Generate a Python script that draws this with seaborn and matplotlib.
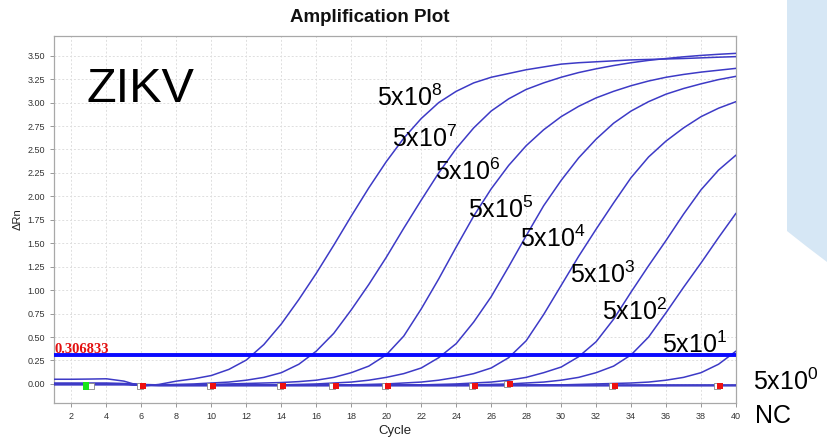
import matplotlib
matplotlib.use("Agg")
import matplotlib.pyplot as plt
import seaborn as sns
import pandas as pd
from matplotlib.patches import Polygon

# ---------------- data ----------------
cycles = list(range(1, 41))

sample_labels = ["5x10$^8$", "5x10$^7$", "5x10$^6$", "5x10$^5$", "5x10$^4$",
                 "5x10$^3$", "5x10$^2$", "5x10$^1$", "5x10$^0$", "NC"]

drn_5e8 = [0.05, 0.05, 0.052, 0.055, 0.03, -0.025, -0.005, 0.03, 0.055, 0.09,
           0.155, 0.255, 0.42, 0.64, 0.90, 1.18, 1.48, 1.79, 2.09, 2.37,
           2.62, 2.83, 3.00, 3.12, 3.21, 3.27, 3.31, 3.35, 3.38, 3.41,
           3.425, 3.435, 3.445, 3.455, 3.46, 3.465, 3.47, 3.477, 3.484, 3.49]
drn_5e7 = [0.01, 0.01, 0.01, 0.01, 0.005, -0.01, -0.01, -0.005, 0.0, 0.01,
           0.02, 0.04, 0.07, 0.12, 0.21, 0.35, 0.54, 0.79, 1.06, 1.35,
           1.66, 1.96, 2.25, 2.51, 2.73, 2.91, 3.04, 3.14, 3.21, 3.27,
           3.32, 3.36, 3.395, 3.425, 3.45, 3.47, 3.488, 3.503, 3.515, 3.525]
drn_5e6 = [0.0, 0.0, 0.0, 0.0, 0.0, -0.01, -0.01, -0.01, -0.01, -0.005,
           0.0, 0.005, 0.01, 0.015, 0.025, 0.04, 0.07, 0.12, 0.19, 0.31,
           0.51, 0.80, 1.12, 1.46, 1.79, 2.08, 2.33, 2.54, 2.71, 2.85,
           2.96, 3.05, 3.12, 3.18, 3.23, 3.27, 3.30, 3.325, 3.345, 3.365]
drn_5e5 = [0.0, 0.0, 0.0, 0.0, 0.0, -0.01, -0.01, -0.01, -0.01, -0.01,
           -0.01, -0.01, -0.01, -0.01, -0.005, 0.0, 0.01, 0.02, 0.04, 0.07,
           0.11, 0.17, 0.28, 0.43, 0.66, 0.93, 1.25, 1.58, 1.90, 2.17,
           2.41, 2.61, 2.78, 2.91, 3.01, 3.09, 3.15, 3.20, 3.245, 3.28]
drn_5e4 = [0.0, 0.0, 0.0, 0.0, 0.0, -0.01, -0.01, -0.01, -0.01, -0.01,
           -0.01, -0.01, -0.01, -0.01, -0.01, -0.01, -0.01, -0.01, -0.005, 0.0,
           0.01, 0.02, 0.04, 0.07, 0.11, 0.17, 0.28, 0.46, 0.74, 1.05,
           1.36, 1.65, 1.93, 2.20, 2.42, 2.59, 2.73, 2.85, 2.94, 3.01]
drn_5e3 = [0.0, 0.0, 0.0, 0.0, 0.0, -0.01, -0.01, -0.01, -0.01, -0.01,
           -0.01, -0.01, -0.01, -0.01, -0.01, -0.01, -0.01, -0.01, -0.01, -0.01,
           -0.01, -0.01, -0.005, 0.0, 0.01, 0.02, 0.04, 0.07, 0.12, 0.18,
           0.29, 0.45, 0.69, 0.98, 1.26, 1.53, 1.81, 2.07, 2.28, 2.44]
drn_5e2 = [0.0, 0.0, 0.0, 0.0, 0.0, -0.01, -0.01, -0.01, -0.01, -0.01,
           -0.01, -0.01, -0.01, -0.01, -0.01, -0.01, -0.01, -0.01, -0.01, -0.01,
           -0.01, -0.01, -0.01, -0.01, -0.01, -0.005, 0.0, 0.01, 0.02, 0.04,
           0.07, 0.12, 0.19, 0.31, 0.50, 0.76, 1.03, 1.29, 1.56, 1.82]
drn_5e1 = [0.0, 0.0, 0.0, 0.0, 0.0, -0.01, -0.01, -0.01, -0.01, -0.01,
           -0.01, -0.01, -0.01, -0.01, -0.01, -0.01, -0.01, -0.01, -0.01, -0.01,
           -0.01, -0.01, -0.01, -0.01, -0.01, -0.01, -0.01, -0.01, -0.01, -0.01,
           -0.005, 0.0, 0.005, 0.01, 0.02, 0.04, 0.07, 0.12, 0.21, 0.35]
drn_5e0 = [0.0, 0.0, 0.0, 0.0, 0.0, -0.005, -0.01, -0.01, -0.01, -0.01,
           -0.01, -0.01, -0.01, -0.01, -0.01, -0.01, -0.01, -0.01, -0.01, -0.01,
           -0.01, -0.01, -0.01, -0.01, -0.01, -0.01, -0.01, -0.01, -0.01, -0.01,
           -0.01, -0.01, -0.01, -0.01, -0.01, -0.01, -0.01, -0.01, -0.01, -0.01]
drn_nc = [-0.01, -0.01, -0.01, -0.01, -0.01, -0.015, -0.02, -0.02, -0.02, -0.02,
          -0.02, -0.02, -0.02, -0.02, -0.02, -0.02, -0.02, -0.02, -0.02, -0.02,
          -0.02, -0.02, -0.02, -0.02, -0.02, -0.02, -0.02, -0.02, -0.02, -0.02,
          -0.02, -0.02, -0.02, -0.02, -0.02, -0.02, -0.02, -0.02, -0.02, -0.02]

threshold = 0.306833

# baseline start / end markers
end_marker_cycles = [6.1, 10.1, 14.1, 17.1, 20.1, 25.1, 27.1, 33.1, 39.1]
end_marker_drn = [-0.02, -0.02, -0.02, -0.02, -0.02, -0.02, -0.005, -0.02, -0.02]
start_marker_cycles = [5.9, 9.9, 13.9, 16.9, 19.9, 24.9, 26.9, 32.9, 38.9, 3.1]
start_marker_drn = [-0.02, -0.02, -0.02, -0.02, -0.02, -0.02, -0.005, -0.02, -0.02, -0.02]
green_marker_cycle = [2.85]
green_marker_drn = [-0.02]

x_ticks = list(range(2, 41, 2))
y_ticks = [0.0, 0.25, 0.5, 0.75, 1.0, 1.25, 1.5, 1.75, 2.0, 2.25, 2.5, 2.75,
           3.0, 3.25, 3.5]

series = [drn_5e8, drn_5e7, drn_5e6, drn_5e5, drn_5e4, drn_5e3, drn_5e2,
          drn_5e1, drn_5e0, drn_nc]

rows = []
for lab, vals in zip(sample_labels, series):
    for c, v in zip(cycles, vals):
        rows.append({"Cycle": c, "dRn": v, "Sample": lab})
df = pd.DataFrame(rows)

# ---------------- style ----------------
sns.set_theme(style="white")
plt.rcParams["font.family"] = ["Liberation Sans", "DejaVu Sans"]
plt.rcParams["mathtext.fontset"] = "custom"
plt.rcParams["mathtext.rm"] = "Liberation Sans"
plt.rcParams["mathtext.it"] = "Liberation Sans"
plt.rcParams["mathtext.default"] = "regular"

W, H = 827, 440
fig = plt.figure(figsize=(W / 100, H / 100), dpi=100)
fig.patch.set_facecolor("white")

# decorative light-blue panel at the right edge
panel = Polygon([(787 / W, 1.0), (1.0, 1.0), (1.0, 1 - 262 / H),
                 (806 / W, 1 - 246 / H), (787 / W, 1 - 231 / H)],
                closed=True, transform=fig.transFigure,
                facecolor="#d6e7f5", edgecolor="none", zorder=0)
fig.patches.append(panel)

ax = fig.add_axes([54 / W, 1 - 402.7 / H, 682 / W, 366.7 / H])

curve_color = "#3d3ac6"
sns.lineplot(data=df, x="Cycle", y="dRn", hue="Sample",
             palette=[curve_color] * len(sample_labels), legend=False,
             estimator=None, sort=False, linewidth=1.1, ax=ax, zorder=3)

ax.axhline(threshold, color="#0a0aff", linewidth=2.8, zorder=4)
ax.text(1.05, 0.33, f"{threshold:.6f}", color="#e31010",
        family=["Liberation Serif", "DejaVu Serif"], fontweight="bold",
        fontsize=10.5, va="baseline", ha="left", zorder=5)

ax.scatter(start_marker_cycles, start_marker_drn, marker="s", s=16,
           facecolor="white", edgecolor="#888888", linewidth=0.6, zorder=5)
ax.scatter(end_marker_cycles, end_marker_drn, marker="s", s=14,
           color="#ee1010", linewidth=0, zorder=6)
ax.scatter(green_marker_cycle, green_marker_drn,
           marker=[(-0.6, -1), (0.6, -1), (0.6, 1), (-0.6, 1)], s=40,
           color="#19e619", linewidth=0, zorder=6)

ax.set_xlim(1, 40)
ax.set_ylim(-0.2, 3.71)
ax.set_xticks(x_ticks)
ax.set_yticks(y_ticks)
ax.set_yticklabels([f"{v:.2f}" for v in y_ticks])
ax.grid(True, color="#dedede", linestyle=(0, (2, 2)), linewidth=0.7)
ax.set_axisbelow(True)
for sp in ax.spines.values():
    sp.set_color("#a8a8a8")
    sp.set_linewidth(0.9)
ax.tick_params(axis="both", labelsize=6.5, labelcolor="#333333",
               colors="#888888", length=3, width=0.6, direction="out",
               bottom=True, left=True)
for lbl in ax.get_xticklabels() + ax.get_yticklabels():
    lbl.set_color("#333333")

ax.set_xlabel("Cycle", fontsize=9.5, color="#222222", labelpad=3)
ax.set_ylabel("")
fig.text(17.5 / W, 1 - 219 / H, "\u0394Rn", rotation=90, fontsize=8,
         color="#222222", ha="center", va="center")

fig.text(370 / W, 1 - 18 / H, "Amplification Plot", fontsize=13.5,
         fontweight="bold", color="#111111", ha="center", va="center")

fig.text(86 / W, 1 - 101.5 / H, "ZIKV", fontsize=35, color="black",
         ha="left", va="baseline")

label_xy = [(377, 106), (392, 147), (435, 180), (468, 218), (520, 247),
            (570, 283), (602, 320), (662, 353), (753, 390), (755, 423)]
for lab, (px, py) in zip(sample_labels, label_xy):
    fig.text(px / W, 1 - py / H, lab, fontsize=18, color="black",
             ha="left", va="baseline")

fig.savefig("out.png", dpi=100)
